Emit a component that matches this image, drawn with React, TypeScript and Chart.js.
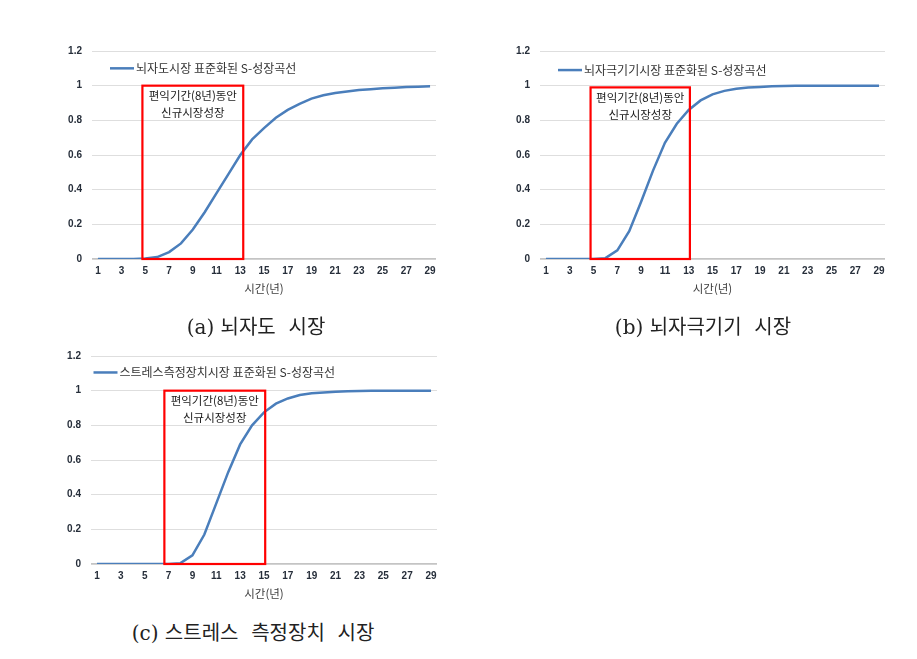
import React, { useEffect, useRef } from "react";
import { Chart, registerables } from "chart.js";

Chart.register(...registerables);

// ---------- data ----------
const years = [1, 2, 3, 4, 5, 6, 7, 8, 9, 10, 11, 12, 13, 14, 15, 16, 17, 18, 19, 20, 21, 22, 23, 24, 25, 26, 27, 28, 29];
const xTickValues = [1, 3, 5, 7, 9, 11, 13, 15, 17, 19, 21, 23, 25, 27, 29];
const xAxisTitle = "시간(년)";

const seriesAName = "뇌자도시장 표준화된 S-성장곡선";
const seriesAValues = [0, 0, 0, 0, 0.003, 0.011, 0.04, 0.09, 0.17, 0.27, 0.38, 0.49, 0.6, 0.69, 0.755, 0.815, 0.86, 0.895, 0.925, 0.945, 0.958, 0.967, 0.975, 0.98, 0.985, 0.988, 0.992, 0.994, 0.996];
const boxA = [4.75, 13.25, 0, 1.0];

const seriesBName = "뇌자극기기시장 표준화된 S-성장곡선";
const seriesBValues = [0, 0, 0, 0, 0, 0.005, 0.05, 0.16, 0.33, 0.51, 0.67, 0.78, 0.86, 0.915, 0.95, 0.97, 0.982, 0.99, 0.993, 0.996, 0.998, 0.999, 1, 1, 1, 1, 1, 1, 1];
const boxB = [4.75, 13.1, 0, 0.99];

const seriesCName = "스트레스측정장치시장 표준화된 S-성장곡선";
const seriesCValues = [0, 0, 0, 0, 0, 0, 0, 0.005, 0.05, 0.17, 0.35, 0.53, 0.69, 0.8, 0.875, 0.925, 0.955, 0.975, 0.985, 0.99, 0.994, 0.996, 0.998, 0.999, 1, 1, 1, 1, 1];
const boxC = [6.65, 15.1, 0, 1.0];

const boxLabelLines = ["편익기간(8년)동안", "신규시장성장"];

const captionA = "(a) 뇌자도  시장";
const captionB = "(b) 뇌자극기기  시장";
const captionC = "(c) 스트레스  측정장치  시장";

// ---------- style ----------
const LINE_COLOR = "#4a7ebb";
const KR_FONT = "'Noto Sans CJK KR', 'Noto Sans', sans-serif";
const TICK_FONT = "'Liberation Sans', Arial, sans-serif";

type PanelProps = {
  name: string;
  values: number[];
  box: number[];
  left: number;
  top: number;
  width: number;
  height: number;
  yAxisWidth: number;
  padTop: number;
  padRight: number;
  legendDx: number;
  legendValue: number;
};

function Panel(p: PanelProps) {
  const ref = useRef<HTMLCanvasElement | null>(null);

  useEffect(() => {
    if (!ref.current) return;
    const overlay = {
      id: "overlay",
      afterDraw(chart: any) {
        const { ctx, chartArea, scales } = chart;
        const xs = scales.x;
        const ys = scales.y;
        // red box
        const x1 = xs.getPixelForValue(p.box[0]);
        const x2 = xs.getPixelForValue(p.box[1]);
        const y1 = ys.getPixelForValue(p.box[3]);
        const y2 = ys.getPixelForValue(p.box[2]);
        ctx.save();
        ctx.strokeStyle = "#ff0000";
        ctx.lineWidth = 2.2;
        ctx.strokeRect(x1, y1, x2 - x1, y2 - y1);
        // box text
        ctx.fillStyle = "#1a1a1a";
        ctx.font = `11.5px ${KR_FONT}`;
        ctx.textAlign = "center";
        ctx.textBaseline = "middle";
        const cx = (x1 + x2) / 2;
        ctx.fillText(boxLabelLines[0], cx, y1 + 10);
        ctx.fillText(boxLabelLines[1], cx, y1 + 27);
        // legend
        const ly = ys.getPixelForValue(p.legendValue);
        const lx = chartArea.left + p.legendDx;
        ctx.strokeStyle = LINE_COLOR;
        ctx.lineWidth = 2.5;
        ctx.beginPath();
        ctx.moveTo(lx, ly);
        ctx.lineTo(lx + 24, ly);
        ctx.stroke();
        ctx.fillStyle = "#333333";
        ctx.textAlign = "left";
        ctx.font = `12px ${KR_FONT}`;
        ctx.fillText(p.name, lx + 26, ly);
        ctx.restore();
      },
    };

    const chart = new Chart(ref.current, {
      type: "line",
      data: {
        datasets: [
          {
            label: p.name,
            data: years.map((x, i) => ({ x, y: p.values[i] })),
            borderColor: LINE_COLOR,
            backgroundColor: LINE_COLOR,
            borderWidth: 2.5,
            pointRadius: 0,
            tension: 0,
            fill: false,
          },
        ],
      },
      options: {
        responsive: false,
        animation: false,
        layout: { padding: { top: p.padTop, right: p.padRight, bottom: 0, left: 0 } },
        plugins: {
          legend: { display: false },
          tooltip: { enabled: false },
        },
        scales: {
          x: {
            type: "linear",
            min: 0.5,
            max: 29.5,
            afterBuildTicks: (s: any) => {
              s.ticks = xTickValues.map((v) => ({ value: v }));
            },
            afterFit: (s: any) => {
              s.height = 40;
            },
            grid: { display: false, drawTicks: false },
            border: { display: false },
            ticks: {
              autoSkip: false,
              maxRotation: 0,
              padding: 6,
              color: "#262e3a",
              font: { family: TICK_FONT, size: 10, weight: "bold" },
              callback: (v: any) => String(v),
            },
            title: {
              display: true,
              text: xAxisTitle,
              color: "#404040",
              font: { family: KR_FONT, size: 11.5 },
              padding: { top: 0, bottom: 3 },
            },
          },
          y: {
            min: 0,
            max: 1.2,
            afterFit: (s: any) => {
              s.width = p.yAxisWidth;
            },
            grid: {
              drawTicks: false,
              color: (c: any) => (c.tick && c.tick.value === 0 ? "#c4c4c4" : "#dedede"),
              lineWidth: (c: any) => (c.tick && c.tick.value === 0 ? 1.8 : 1),
            },
            border: { display: false },
            ticks: {
              stepSize: 0.2,
              padding: 10,
              color: "#262e3a",
              font: { family: TICK_FONT, size: 10, weight: "bold" },
              callback: (v: any) => String(Math.round(Number(v) * 10) / 10),
            },
          },
        },
      },
      plugins: [overlay],
    } as any);
    return () => chart.destroy();
  }, []);

  return (
    <canvas
      ref={ref}
      width={p.width}
      height={p.height}
      style={{ position: "absolute", left: p.left, top: p.top, width: p.width, height: p.height }}
    />
  );
}

function Caption({ text, cx, cy }: { text: string; cx: number; cy: number }) {
  return (
    <div
      style={{
        position: "absolute",
        left: cx - 200,
        top: cy - 14,
        width: 400,
        height: 28,
        lineHeight: "28px",
        textAlign: "center",
        whiteSpace: "pre",
        fontFamily: "'DejaVu Serif', 'Noto Sans CJK KR', serif",
        fontSize: 20,
        color: "#222",
      }}
    >
      {text}
    </div>
  );
}

export default function App() {
  return (
    <div style={{ position: "absolute", left: 0, top: 0, width: 917, height: 659, background: "#fff", overflow: "hidden" }}>
      <Panel name={seriesAName} values={seriesAValues} box={boxA} left={50} top={35} width={400} height={264}
        yAxisWidth={42} padTop={14} padRight={14} legendDx={18} legendValue={1.1} />
      <Panel name={seriesBName} values={seriesBValues} box={boxB} left={500} top={35} width={400} height={264}
        yAxisWidth={40} padTop={14} padRight={15} legendDx={18} legendValue={1.09} />
      <Panel name={seriesCName} values={seriesCValues} box={boxC} left={50} top={340} width={400} height={264}
        yAxisWidth={41} padTop={15} padRight={13} legendDx={2.5} legendValue={1.105} />
      <Caption text={captionA} cx={256} cy={327} />
      <Caption text={captionB} cx={703} cy={327} />
      <Caption text={captionC} cx={253} cy={633} />
    </div>
  );
}
